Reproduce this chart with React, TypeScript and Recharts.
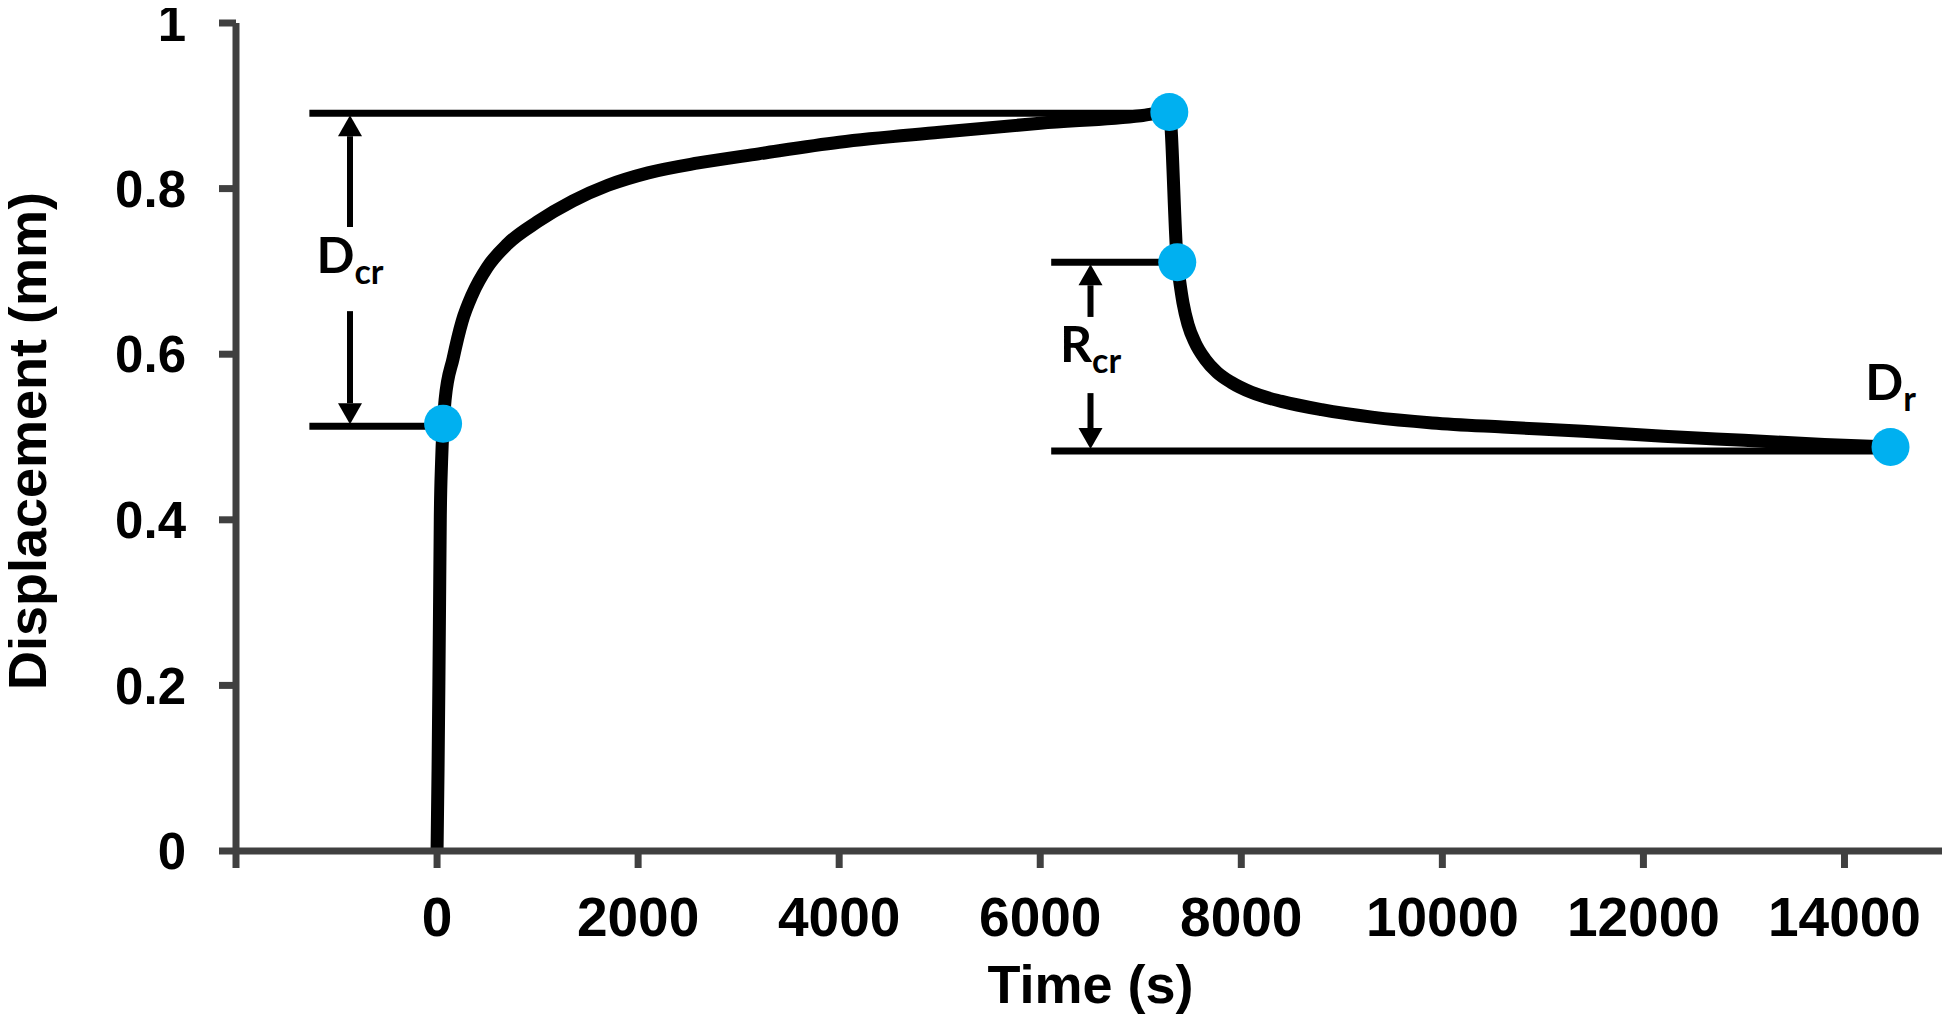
import React from 'react'
import {
  ComposedChart,
  Line,
  Scatter,
  XAxis,
  YAxis,
  ReferenceLine,
  ReferenceDot,
  Label,
} from 'recharts'

// creep curve: time (s) vs displacement (mm)
const timeS = [
  0, 10, 18, 25, 32, 45, 62, 80, 160, 250, 350, 500, 700, 1000, 1350, 1700, 2100, 2600, 3200,
  4000, 5000, 6000, 7000, 7284, 7363, 7385, 7420, 7470, 7540, 7640, 7760, 7900, 8100, 8400,
  8800, 9300, 9900, 10600, 11400, 12200, 13000, 13800, 14458,
]
const dispMm = [
  0, 0.1, 0.2, 0.3, 0.4, 0.47, 0.516, 0.545, 0.595, 0.64, 0.672, 0.705, 0.733, 0.76, 0.785,
  0.804, 0.819, 0.831, 0.842, 0.856, 0.868, 0.879, 0.888, 0.8925, 0.711, 0.69, 0.662, 0.636,
  0.614, 0.594, 0.578, 0.566, 0.554, 0.543, 0.533, 0.524, 0.517, 0.512, 0.507, 0.501, 0.496,
  0.491, 0.488,
]

// highlighted points
const dotTime = [60, 7284, 7363, 14458]
const dotDisp = [0.516, 0.8925, 0.711, 0.488]

// horizontal guide lines
const guideStart = [-1270, -1270, 6109, 6109]
const guideEnd = [7284, 60, 7363, 14458]
const guideY = [0.891, 0.513, 0.711, 0.483]

// arrows: x, tail y, tip y
const arrowX = [-866, -866, 6500, 6500]
const arrowTail = [0.7536, 0.652, 0.645, 0.553]
const arrowTip = [0.891, 0.513, 0.711, 0.483]

// annotation labels
const labelMain = ['D', 'R', 'D']
const labelSub = ['cr', 'cr', 'r']
const labelTime = [-866, 6500, 14458]
const labelDisp = [0.698, 0.5906, 0.5447]

const xTicks = [-2000, 0, 2000, 4000, 6000, 8000, 10000, 12000, 14000]
const yTicks = [0, 0.2, 0.4, 0.6, 0.8, 1]

const curve = timeS.map((t, i) => ({ t, d: dispMm[i] }))
const dots = dotTime.map((t, i) => ({ t, d: dotDisp[i] }))

const FONT = '"Liberation Sans", Arial, sans-serif'
const AXIS = '#404040'

const Arrow = (p: any) => {
  const { x1, y1, x2, y2 } = p
  const dir = y2 < y1 ? -1 : 1
  const tipY = y2 - dir * 2
  const headLen = 21
  const half = 12
  return (
    <g>
      <line x1={x1} y1={y1} x2={x2} y2={tipY - dir * headLen} stroke="#000" strokeWidth={6} />
      <polygon
        points={`${x2},${tipY} ${x2 - half},${tipY - dir * headLen} ${x2 + half},${tipY - dir * headLen}`}
        fill="#000"
      />
    </g>
  )
}

const makeLabel = (i: number) => (p: any) => (
  <text
    x={p.cx}
    y={p.cy}
    textAnchor="middle"
    fontFamily="Lato, 'Open Sans', sans-serif"
    fontWeight={700}
    fontSize={50}
    fill="#000"
  >
    <tspan>{labelMain[i]}</tspan>
    <tspan dy={11} fontSize={34}>
      {labelSub[i]}
    </tspan>
  </text>
)

const BlueDot = (p: any) => <circle cx={p.cx} cy={p.cy} r={19} fill="#00B0F0" />

export default function App() {
  return (
    <div style={{ margin: '-8px 0 0 -8px', width: 1950, height: 1024 }}>
      <ComposedChart
        width={1950}
        height={1024}
        data={curve}
        margin={{ top: 23, right: 5, left: 0, bottom: 0 }}
      >
        <XAxis
          dataKey="t"
          type="number"
          domain={[-2000, 15000]}
          ticks={xTicks}
          interval={0}
          tickFormatter={(v: number) => (v < 0 ? '' : String(v))}
          height={173}
          tickSize={17}
          tickMargin={29}
          axisLine={{ stroke: AXIS, strokeWidth: 7 }}
          tickLine={{ stroke: AXIS, strokeWidth: 7 }}
          tick={{ fontSize: 55, fontWeight: 700, fill: '#000', fontFamily: FONT }}
        >
          <Label
            content={(p: any) => (
              <text
                x={p.viewBox.x + p.viewBox.width / 2}
                y={1003}
                textAnchor="middle"
                fontFamily={FONT}
                fontWeight={700}
                fontSize={54}
                fill="#000"
              >
                Time (s)
              </text>
            )}
          />
        </XAxis>
        <YAxis
          type="number"
          domain={[0, 1]}
          ticks={yTicks}
          interval={0}
          width={236}
          tickSize={17}
          tickMargin={33}
          axisLine={{ stroke: AXIS, strokeWidth: 7 }}
          tickLine={{ stroke: AXIS, strokeWidth: 7 }}
          tick={{ fontSize: 51, fontWeight: 700, fill: '#000', fontFamily: FONT }}
        >
          <Label
            content={(p: any) => {
              const cy = p.viewBox.y + p.viewBox.height / 2 + 4
              return (
                <text
                  x={46}
                  y={cy}
                  transform={`rotate(-90 46 ${cy})`}
                  textAnchor="middle"
                  fontFamily={FONT}
                  fontWeight={700}
                  fontSize={54}
                  fill="#000"
                >
                  Displacement (mm)
                </text>
              )
            }}
          />
        </YAxis>

        {guideY.map((y, i) => (
          <ReferenceLine
            key={'g' + i}
            segment={[
              { x: guideStart[i], y },
              { x: guideEnd[i], y },
            ]}
            stroke="#000"
            strokeWidth={7}
          />
        ))}
        {arrowX.map((x, i) => (
          <ReferenceLine
            key={'a' + i}
            segment={[
              { x, y: arrowTail[i] },
              { x, y: arrowTip[i] },
            ]}
            shape={Arrow}
          />
        ))}

        <Line
          dataKey="d"
          type="monotone"
          stroke="#000"
          strokeWidth={13}
          dot={false}
          activeDot={false}
          isAnimationActive={false}
        />
        <Scatter data={dots} dataKey="d" shape={BlueDot} isAnimationActive={false} />

        {labelMain.map((_, i) => (
          <ReferenceDot
            key={'l' + i}
            x={labelTime[i]}
            y={labelDisp[i]}
            r={0}
            shape={makeLabel(i)}
          />
        ))}
      </ComposedChart>
    </div>
  )
}
